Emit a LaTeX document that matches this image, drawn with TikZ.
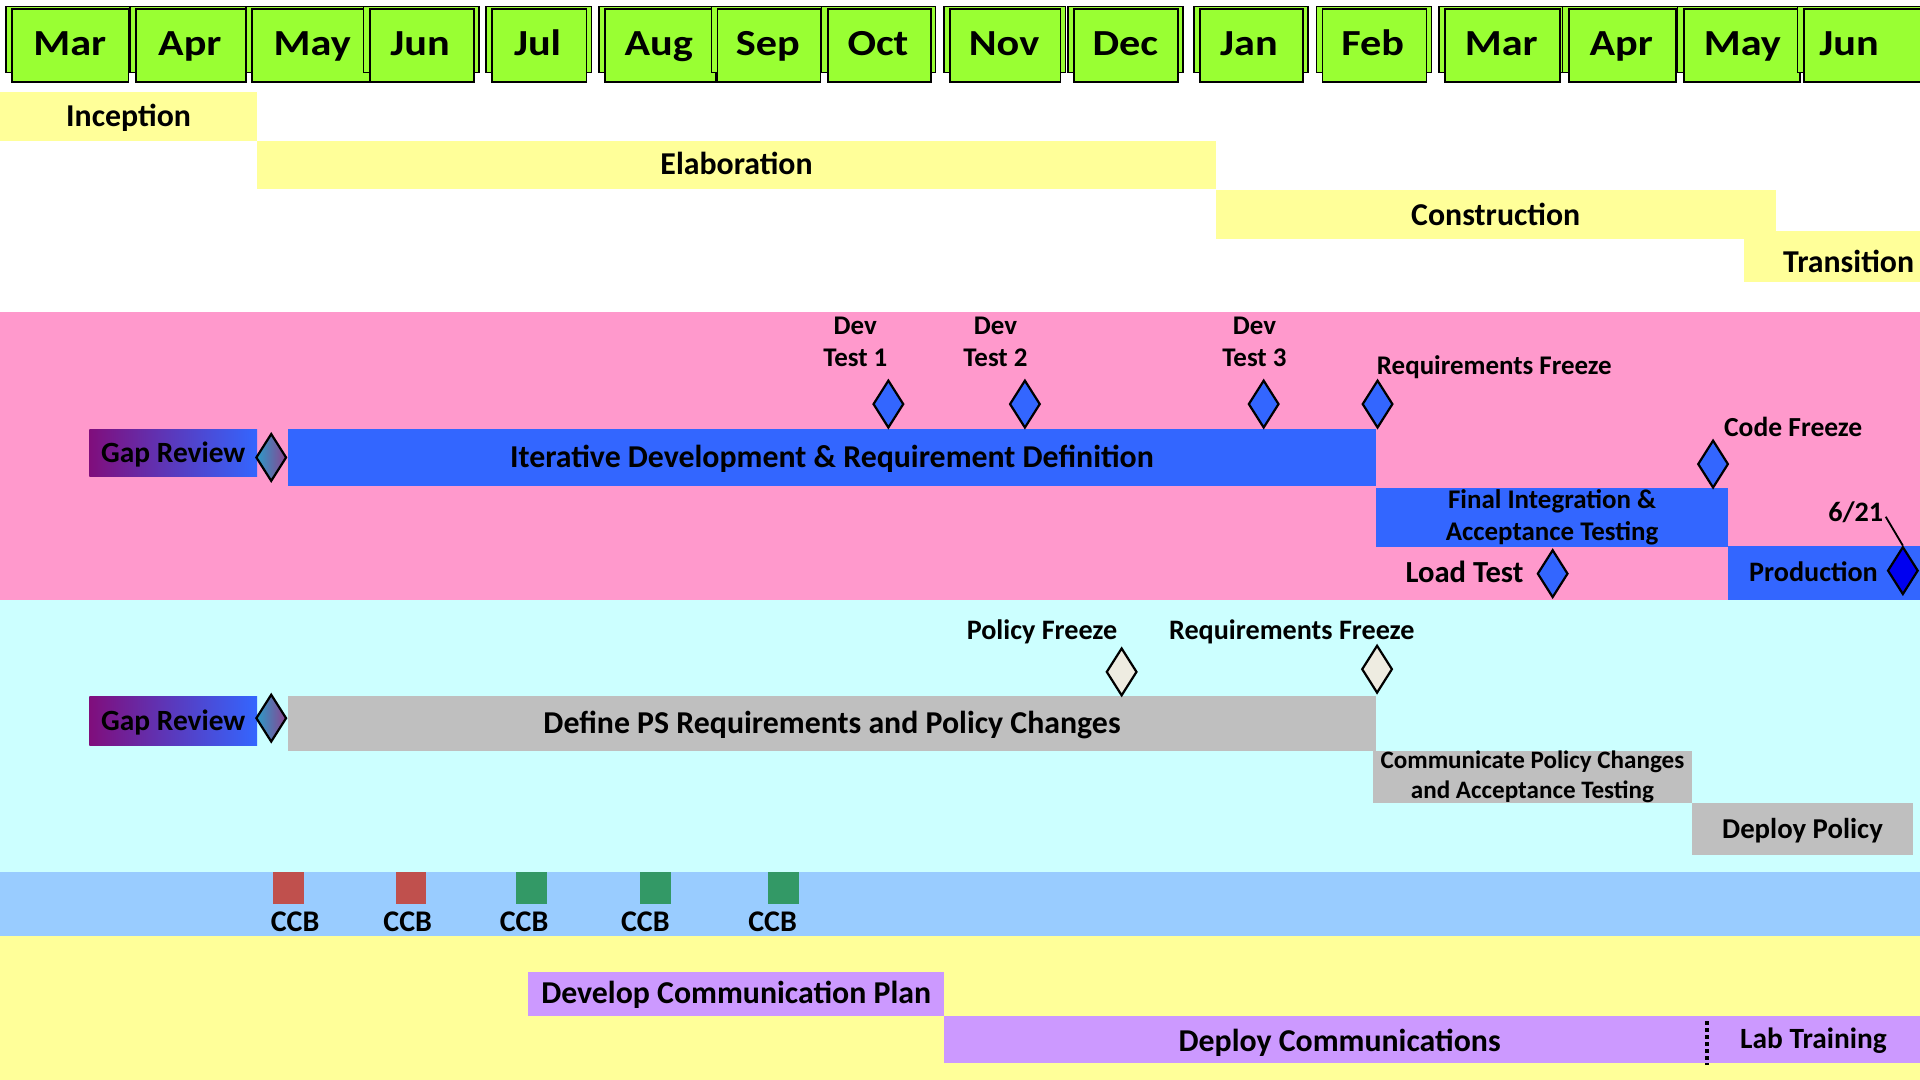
\documentclass[tikz,border=0pt]{standalone}
\usepackage{fontspec}
\setmainfont{Carlito}
\usetikzlibrary{shapes.geometric}
\definecolor{mgreen}{HTML}{99FF33}
\definecolor{phase}{HTML}{FFFF99}
\definecolor{pinkband}{HTML}{FF99CC}
\definecolor{cyanband}{HTML}{CCFFFF}
\definecolor{blueband}{HTML}{99CCFF}
\definecolor{barblue}{HTML}{3366FF}
\definecolor{prodblue}{HTML}{0000F0}
\definecolor{bargray}{HTML}{BFBFBF}
\definecolor{commpurple}{HTML}{CC99FF}
\definecolor{gapleft}{HTML}{800E7C}
\definecolor{dleft}{HTML}{2A9BC8}
\definecolor{dright}{HTML}{8C4490}
\definecolor{beige}{HTML}{EEECE1}
\definecolor{ccbred}{HTML}{C0504D}
\definecolor{ccbgreen}{HTML}{339966}
\tikzset{
  fz/.style args={#1/#2}{font=\fontsize{#1}{#2}\selectfont\bfseries},
  fc/.style={font=\fontsize{#1}{#1}\selectfont\bfseries, text height={0.644*#1pt}, text depth=0pt},
  bar/.style={anchor=north west, inner sep=0pt, outer sep=0pt, align=center},
  lbl/.style={inner sep=0pt, outer sep=0pt},
  ml/.style={inner sep=0pt, outer sep=0pt, align=center},
  ms/.style={diamond, draw=black, line width=1.8pt, inner sep=0pt, minimum width=25pt, minimum height=39pt},
  hback/.style={draw=black, line width=1.2pt, fill=mgreen},
  hfront/.style={draw=black, line width=1.5pt, fill=mgreen},
  sq/.style={anchor=north west, inner sep=0pt, outer sep=0pt, minimum width=25pt, minimum height=26pt},
}
\begin{document}
\begin{tikzpicture}[x=1pt,y=-1pt]
\useasboundingbox (0,0) rectangle (1568,882);
\clip (0,0) rectangle (1568,882);
\fill[white] (0,0) rectangle (1568,882);
% bands
\fill[pinkband] (0,255) rectangle (1568,490);
\fill[cyanband] (0,490) rectangle (1568,712);
\fill[blueband] (0,712) rectangle (1568,764);
\fill[phase] (0,764) rectangle (1568,882);
% month header
\foreach \i/\l/\r/\c/\n in {1/10/105/57/Mar, 2/111/201/155/Apr, 3/206/302/255/May, 4/302/387/343/Jun, 5/402/479/439/Jul, 6/494/585/538/Aug, 7/586/670/627/Sep, 8/676/760/717/Oct, 9/776/866/820/Nov, 10/877/962/919/Dec, 11/980/1064/1020/Jan, 12/1080/1165/1121/Feb, 13/1180/1274/1226/Mar, 14/1281/1369/1324/Apr, 15/1375/1470/1423/May, 16/1473/1585/1510/Jun}{
  \draw[hback] (\l-5,5.5) rectangle (\r+4,59);
  \draw[hfront] (\l,7.6) rectangle (\r,67);
  \node[lbl, fc=30] (mon\i) at (\c,36) {\scalebox{1.15}[1]{\n}};
}
% phases
\node[bar, fill=phase, minimum width=210pt, minimum height=40pt, fc=26] (inc) at (0,75) {Inception};
\node[bar, fill=phase, minimum width=783pt, minimum height=39pt, fc=26] (ela) at (210,115) {Elaboration};
\node[bar, fill=phase, minimum width=457pt, minimum height=40pt, fc=26] (con) at (993,155.5) {Construction};
\node[bar, fill=phase, minimum width=144pt, minimum height=41.5pt] (tra) at (1424,189) {};
\node[lbl, fc=26] (ltra) at (1509.7,214.3) {Transition};
% development band
\node[bar, left color=gapleft, right color=barblue, minimum width=137pt, minimum height=39pt, fc=24] (gapA) at (73,350.5) {Gap Review};
\node[ms, left color=dleft, right color=dright] (dgapA) at (221.5,373.6) {};
\node[bar, fill=barblue, minimum width=889pt, minimum height=47pt, fc=26] (iter) at (235,350) {Iterative Development \& Requirement Definition};
\node[ms, fill=barblue] (dt1) at (725.5,330) {};
\node[ms, fill=barblue] (dt2) at (837,330) {};
\node[ms, fill=barblue] (dt3) at (1032,330) {};
\node[ms, fill=barblue] (drf) at (1125,330) {};
\node[ml, fz=22/26] (ldt1) at (698.5,279.5) {Dev\\Test 1};
\node[ml, fz=22/26] (ldt2) at (813,279.5) {Dev\\Test 2};
\node[ml, fz=22/26] (ldt3) at (1024.5,279.5) {Dev\\Test 3};
\node[lbl, fc=22, anchor=west] (lrf) at (1124.5,299) {Requirements Freeze};
\node[bar, fill=barblue, minimum width=287pt, minimum height=48pt, fz=22/26] (fint) at (1124,398.5) {Final Integration \&\\Acceptance Testing};
\node[ms, fill=barblue] (dcf) at (1399,379) {};
\node[lbl, fc=22.5, anchor=west] (lcf) at (1408,349.5) {Code Freeze};
\node[ms, fill=barblue] (dlt) at (1268,468.5) {};
\node[lbl, fc=25] (llt) at (1196,467.7) {Load Test};
\node[bar, fill=barblue, minimum width=157pt, minimum height=44pt] (prod) at (1411,446) {};
\node[lbl, fc=23] (lprod) at (1481,467.6) {Production};
\node[ms, fill=prodblue] (dprod) at (1554,466) {};
\node[lbl, fc=23] (l621) at (1515.5,418.6) {6/21};
\coordinate (c621) at (1540,422);
\draw[line width=1.5pt] (c621) -- (dprod.north);
% policy band
\node[bar, left color=gapleft, right color=barblue, minimum width=137pt, minimum height=40pt, fc=24] (gapB) at (73,569) {Gap Review};
\node[ms, left color=dleft, right color=dright] (dgapB) at (221.5,586.5) {};
\node[bar, fill=bargray, minimum width=889pt, minimum height=45.5pt, fc=26] (defps) at (235,568) {Define PS Requirements and Policy Changes};
\node[ms, fill=beige] (dpf) at (916,548.7) {};
\node[ms, fill=beige] (drf2) at (1124.6,546.5) {};
\node[lbl, fc=23] (lpf) at (851,514.6) {Policy Freeze};
\node[lbl, fc=23] (lrf2) at (1055,514.6) {Requirements Freeze};
\node[bar, fill=bargray, minimum width=261pt, minimum height=43pt, fz=20.5/24] (comm) at (1121,613) {Communicate Policy Changes\\and Acceptance Testing};
\node[bar, fill=bargray, minimum width=180pt, minimum height=42pt, fc=23.5] (dpol) at (1382,656) {Deploy Policy};
% CCB band
\node[sq, fill=ccbred] (s1) at (223,712) {};
\node[sq, fill=ccbred] (s2) at (323,712) {};
\node[sq, fill=ccbgreen] (s3) at (421.5,712) {};
\node[sq, fill=ccbgreen] (s4) at (523,712) {};
\node[sq, fill=ccbgreen] (s5) at (627.5,712) {};
\foreach \j/\x in {1/241,2/333,3/428,4/527,5/631}{
  \node[lbl, fc=24.5] (ccb\j) at (\x,753) {CCB};
}
% communications band
\node[bar, fill=commpurple, minimum width=339.5pt, minimum height=36pt, fc=26] (dcp) at (431.5,793.5) {Develop Communication Plan};
\node[bar, fill=commpurple, minimum width=797pt, minimum height=38.5pt] (dcomm) at (771,829.5) {};
\node[lbl, fc=26] (ldcomm) at (1094,850.5) {Deploy Communications};
\coordinate (dot1) at (1394,834);
\coordinate (dot2) at (1394,870);
\draw[line width=3pt, dash pattern=on 3pt off 2.7pt] (dot1) -- (dot2);
\node[lbl, fc=24] (llab) at (1481,848.6) {Lab Training};
\end{tikzpicture}
\end{document}
